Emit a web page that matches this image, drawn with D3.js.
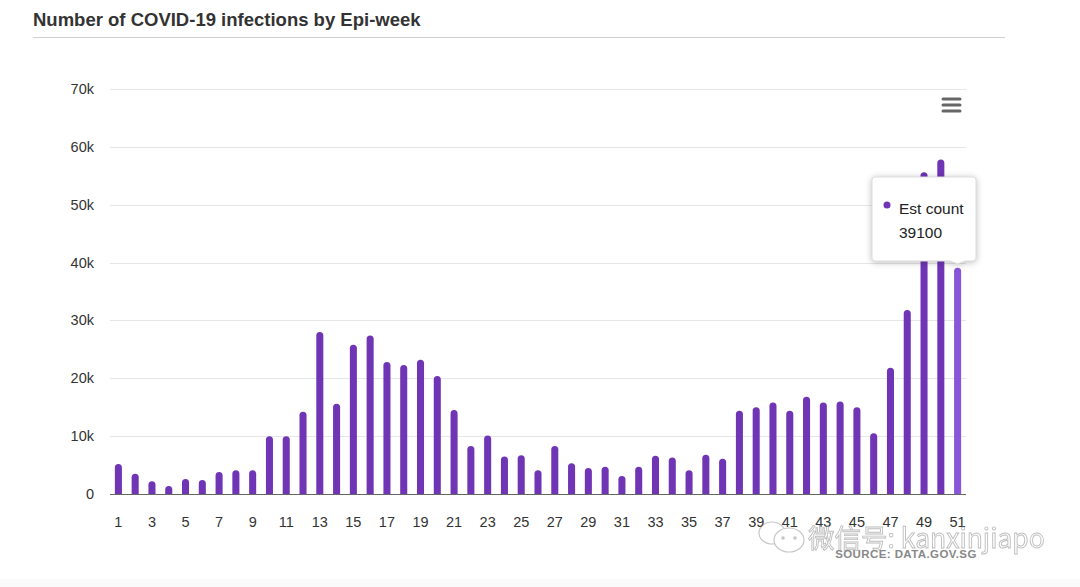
<!DOCTYPE html>
<html>
<head>
<meta charset="utf-8">
<script src="https://cdn.jsdelivr.net/npm/d3@7"></script>
<style>
  body { margin: 0; background: #fff; font-family: "Liberation Sans", Arial, sans-serif; }
  svg { display: block; }
</style>
</head>
<body>
<svg id="chart" width="1080" height="587"></svg>
<script>
// Epi-week numbers and estimated infection counts
const weeks = d3.range(1, 52);
const counts = [
  5200, 3500, 2200, 1400, 2600, 2400, 3800, 4100, 4100, 10000,
  10000, 14200, 28000, 15600, 25800, 27400, 22800, 22300, 23200, 20400,
  14500, 8300, 10100, 6500, 6700, 4100, 8300, 5300, 4500, 4700,
  3100, 4700, 6600, 6300, 4100, 6800, 6100, 14400, 15000, 15800,
  14400, 16800, 15800, 16000, 15000, 10500, 21800, 31800, 55600, 57800,
  39100
];
const yTicks = [0, 10000, 20000, 30000, 40000, 50000, 60000, 70000];
const hoverWeek = 51;

const svg = d3.select("#chart");
const margin = { left: 110, right: 114, top: 89, bottom: 93 };
const W = 1080, H = 587;

// title + rule
svg.append("text")
  .attr("x", 33).attr("y", 26)
  .style("font-size", "18.5px").style("font-weight", "bold").style("fill", "#333")
  .text("Number of COVID-19 infections by Epi-week");
svg.append("line")
  .attr("x1", 33).attr("x2", 1005).attr("y1", 37.5).attr("y2", 37.5)
  .attr("stroke", "#d0d0d0");

// faint footer band
svg.append("rect").attr("x", 0).attr("y", 579).attr("width", W).attr("height", 8).attr("fill", "#fafafa");

const x = d3.scaleBand()
  .domain(weeks)
  .range([margin.left, W - margin.right])
  .paddingInner(0.58).paddingOuter(0.29);

const y = d3.scaleLinear()
  .domain([0, 70000])
  .range([H - margin.bottom, margin.top]);

// grid
svg.append("g")
  .selectAll("line")
  .data(yTicks.slice(1))
  .join("line")
  .attr("x1", margin.left).attr("x2", W - margin.right)
  .attr("y1", d => Math.round(y(d)) + 0.5).attr("y2", d => Math.round(y(d)) + 0.5)
  .attr("stroke", "#e6e6e6");

// y labels
svg.append("g")
  .selectAll("text")
  .data(yTicks)
  .join("text")
  .attr("x", 94).attr("y", d => y(d) + 5)
  .attr("text-anchor", "end")
  .style("font-size", "14.5px").style("fill", "#333")
  .text(d => d === 0 ? "0" : (d / 1000) + "k");

// bars with rounded tops
const bw = x.bandwidth();
const r = bw / 2;
svg.append("g")
  .selectAll("path")
  .data(weeks.map((w, i) => ({ w, v: counts[i] })))
  .join("path")
  .attr("fill", d => d.w === hoverWeek ? "#8a55d8" : "#6f35b5")
  .attr("d", d => {
    const x0 = x(d.w), x1 = x0 + bw, yt = y(d.v), yb = y(0);
    return `M${x0},${yb}V${yt + r}A${r},${r} 0 0 1 ${x1},${yt + r}V${yb}Z`;
  });

// x axis line
svg.append("line")
  .attr("x1", margin.left).attr("x2", W - margin.right)
  .attr("y1", y(0) + 0.5).attr("y2", y(0) + 0.5)
  .attr("stroke", "#666").attr("stroke-width", 1.2);

// x labels (every other week)
svg.append("g")
  .selectAll("text")
  .data(weeks.filter(w => w % 2 === 1))
  .join("text")
  .attr("x", w => x(w) + bw / 2).attr("y", 527)
  .attr("text-anchor", "middle")
  .style("font-size", "14.5px").style("fill", "#333")
  .text(w => w);

// menu icon
svg.append("g")
  .selectAll("line")
  .data([99, 105, 111])
  .join("line")
  .attr("x1", 943).attr("x2", 960).attr("y1", d => d).attr("y2", d => d)
  .attr("stroke", "#666").attr("stroke-width", 3).attr("stroke-linecap", "round");

// tooltip
const hx = x(hoverWeek) + bw / 2;
const hv = counts[weeks.indexOf(hoverWeek)];
const tip = svg.append("g");
const bx = 872, by = 177, bwid = 104, bh = 84;
tip.append("path")
  .attr("d", `M${bx + 3},${by}H${bx + bwid - 3}Q${bx + bwid},${by} ${bx + bwid},${by + 3}V${by + bh - 3}Q${bx + bwid},${by + bh} ${bx + bwid - 3},${by + bh}H${hx + 8}L${hx},${y(hv) - 4}L${hx - 8},${by + bh}H${bx + 3}Q${bx},${by + bh} ${bx},${by + bh - 3}V${by + 3}Q${bx},${by} ${bx + 3},${by}Z`)
  .attr("fill", "#fff").attr("stroke", "#ddd").attr("stroke-width", 1)
  .style("filter", "drop-shadow(0px 1px 3px rgba(0,0,0,0.25))");
tip.append("circle").attr("cx", 887).attr("cy", 205).attr("r", 3.5).attr("fill", "#6f35b5");
tip.append("text").attr("x", 899).attr("y", 214)
  .style("font-size", "15.5px").style("fill", "#222").text("Est count");
tip.append("text").attr("x", 899).attr("y", 238)
  .style("font-size", "15.5px").style("fill", "#222").text(hv);

// watermark
const wm = svg.append("g").attr("opacity", 0.55);
wm.append("ellipse").attr("cx", 772).attr("cy", 533).attr("rx", 13).attr("ry", 11)
  .attr("fill", "#fff").attr("stroke", "#999").attr("stroke-width", 1.2);
wm.append("ellipse").attr("cx", 789).attr("cy", 540).attr("rx", 15).attr("ry", 12)
  .attr("fill", "#fff").attr("stroke", "#999").attr("stroke-width", 1.2);
[783, 795].forEach(cx => wm.append("circle").attr("cx", cx).attr("cy", 538).attr("r", 1.8).attr("fill", "#999"));
wm.append("text").attr("x", 808).attr("y", 548)
  .style("font-size", "26.5px").style("fill", "#fff").style("stroke", "#888").style("stroke-width", 0.9)
  .style("font-family", "'Noto Sans CJK SC', 'DejaVu Sans', sans-serif")
  .text("微信号: kanxinjiapo");
svg.append("text").attr("x", 906).attr("y", 558)
  .attr("text-anchor", "middle")
  .style("font-size", "11.5px").style("font-weight", "bold").style("fill", "#888")
  .style("letter-spacing", "0.4px")
  .text("SOURCE: DATA.GOV.SG");
</script>
</body>
</html>
